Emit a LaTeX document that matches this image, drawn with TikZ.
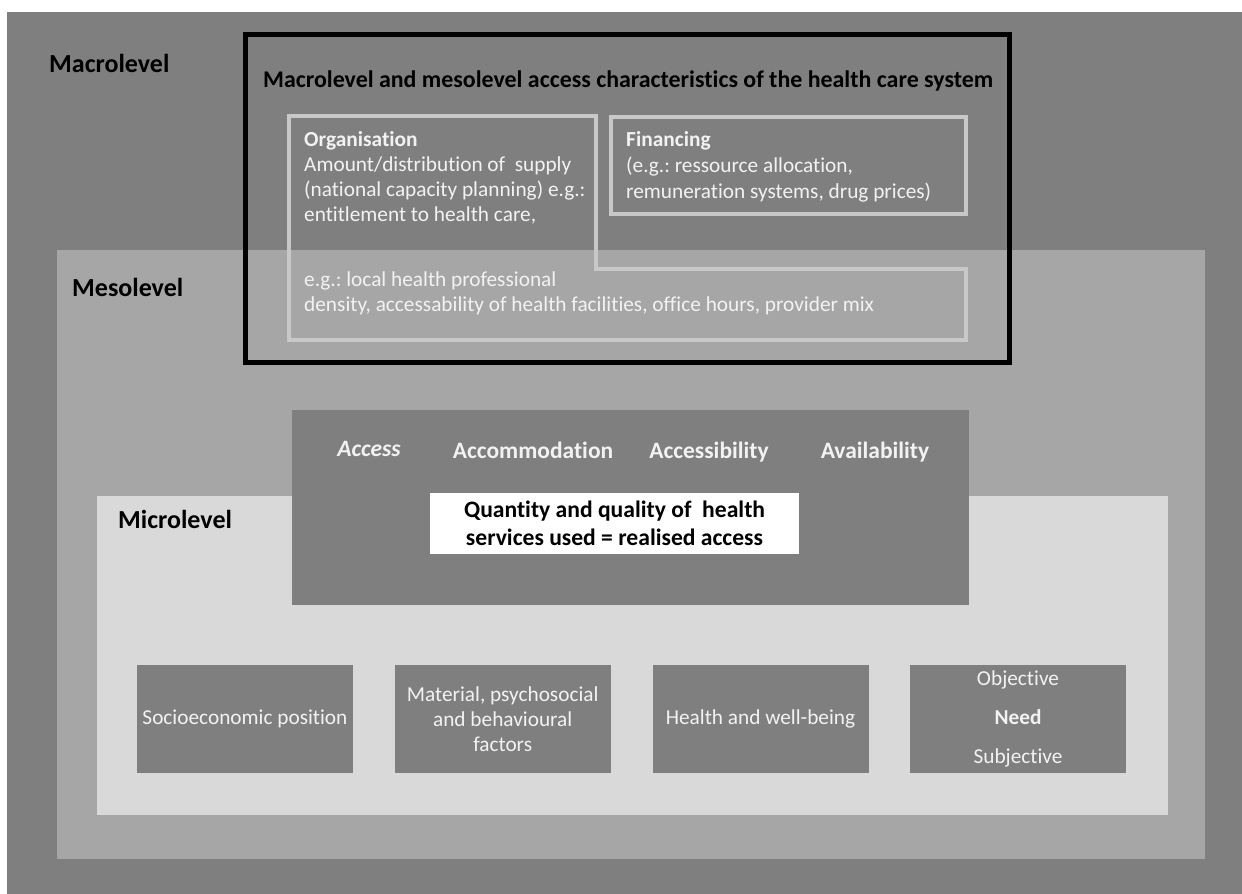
\documentclass[tikz,border=0pt]{standalone}
\usepackage{fontspec}
\setmainfont{Carlito}[Ligatures=NoCommon]
\frenchspacing
\definecolor{macroc}{RGB}{127,127,127}
\definecolor{mesoc}{RGB}{166,166,166}
\definecolor{microc}{RGB}{217,217,217}
\definecolor{framec}{RGB}{200,200,200}
\definecolor{txtc}{RGB}{242,242,242}
\tikzset{
  levellabel/.style={anchor=base west, inner sep=0pt, font=\fontsize{26}{30}\selectfont\bfseries, text=black},
  bodytext/.style={anchor=base west, inner sep=0pt, font=\fontsize{21.3}{25}\selectfont, text=txtc},
  headtext/.style={anchor=base west, inner sep=0pt, font=\fontsize{21.4}{25}\selectfont\bfseries, text=txtc},
  accesstext/.style={anchor=base, inner sep=0pt, font=\fontsize{23.5}{28}\selectfont\bfseries, text=txtc},
  factorbox/.style={fill=macroc, minimum width=216pt, minimum height=108pt, inner sep=2pt, align=center, text=txtc, font=\fontsize{21.3}{25}\selectfont},
}
\begin{document}
\begin{tikzpicture}[x=1pt,y=-1pt]
\useasboundingbox (0,0) rectangle (1242,894);
\fill[white] (0,0) rectangle (1242,894);
% level regions
\fill[macroc] (7,12) rectangle (1242,894);
\fill[mesoc] (57,250) rectangle (1205,859);
\fill[microc] (97,496) rectangle (1168,815);
% level labels
\node[levellabel] (macrolab) at (49,72.7) {Macrolevel};
\node[levellabel] (mesolab) at (72,296) {Mesolevel};
\node[levellabel] (microlab) at (118,528) {Microlevel};
% health care system frame
\node[anchor=base west, inner sep=0pt, font=\fontsize{23.9}{28}\selectfont\bfseries] (title) at (263,87) {Macrolevel and mesolevel access characteristics of the health care system};
% organisation frame
\draw[framec, line width=4pt] (289,116) -- (596,116) -- (596,269) -- (966,269) -- (966,340) -- (289,340) -- cycle;
\node[headtext] (orghead) at (304,146) {Organisation};
\node[bodytext] (org1) at (304,171) {Amount/distribution of\ \ supply};
\node[bodytext] (org2) at (304,196.5) {(national capacity planning) e.g.:};
\node[bodytext] (org3) at (304,221.5) {entitlement to health care,};
\node[bodytext] (meso1) at (304,286) {e.g.: local health professional};
\node[bodytext] (meso2) at (304,311.5) {density, accessability of health facilities, office hours, provider mix};
% financing frame
\draw[framec, line width=4pt] (611,117) rectangle (966,214);
\node[headtext] (finhead) at (626,146.7) {Financing};
\node[bodytext] (fin1) at (626,172.7) {(e.g.: ressource allocation,};
\node[bodytext] (fin2) at (626,198.3) {remuneration systems, drug prices)};
% black frame
\draw[black, line width=5pt] (245,34.5) rectangle (1009,362);
% access box
\fill[macroc] (292,410) rectangle (969,605);
\node[accesstext, font=\fontsize{23.5}{28}\selectfont\bfseries\itshape] (acc) at (369,456.7) {Access};
\node[accesstext] (accom) at (533,458.7) {Accommodation};
\node[accesstext] (accessib) at (709,458.7) {Accessibility};
\node[accesstext] (avail) at (875,458.7) {Availability};
\node[fill=white, minimum width=369pt, minimum height=61pt, inner sep=0pt, align=center, font=\fontsize{23.6}{28}\selectfont\bfseries] (realised) at (614.5,523.5) {Quantity and quality of\ \ health\\services used = realised access};
% factor boxes
\node[factorbox] (socio) at (245,719) {Socioeconomic position};
\node[factorbox] (material) at (502.7,719) {Material, psychosocial\\and behavioural\\factors};
\node[factorbox] (health) at (760.5,719) {Health and well-being};
\node[factorbox, font=\fontsize{21.3}{39}\selectfont] (need) at (1018,719) {Objective\\\textbf{Need}\\Subjective};
\end{tikzpicture}
\end{document}
